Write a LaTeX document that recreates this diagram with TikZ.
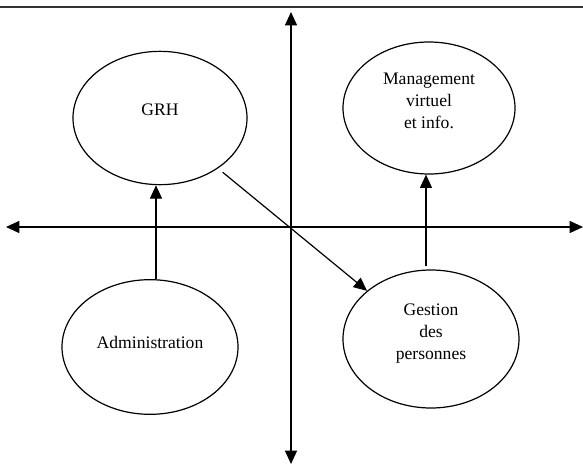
\documentclass[tikz,border=0pt]{standalone}
\usepackage{fontspec}
\setmainfont{Liberation Serif}
\usetikzlibrary{arrows.meta,shapes.geometric}
\begin{document}
\begin{tikzpicture}[x=0.75pt,y=-0.75pt,
  every node/.style={font=\fontsize{13.2}{16.5}\selectfont},
  bubble/.style={draw,ellipse,inner sep=0pt,line width=0.9pt},
  caption/.style={align=center,inner sep=0pt},
  axis/.style={line width=0.9pt,{Triangle[length=10pt,width=9pt]}-{Triangle[length=10pt,width=9pt]}},
  link/.style={line width=0.9pt,-{Triangle[length=10pt,width=9pt]}}]
  \useasboundingbox (0,0) rectangle (583,465);
  % rule at the top of the page
  \draw[line width=1.1pt,black!80] (0,7) -- (583,7);
  % the two axes
  \coordinate (top) at (291,12);
  \coordinate (bottom) at (291,464);
  \coordinate (left) at (6,227);
  \coordinate (right) at (583,227);
  \draw[axis] (top) -- (bottom);
  \draw[axis] (left) -- (right);
  % the four fields, each caption set a little above the centre
  \node[bubble,minimum width=130.5pt,minimum height=100pt,
        label={[caption,yshift=6.5pt]center:GRH}] (grh) at (160,118) {};
  \node[bubble,minimum width=129pt,minimum height=99pt,
        label={[caption,yshift=5pt]center:Management\\virtuel\\et info.}] (mv) at (429,108) {};
  \node[bubble,minimum width=132pt,minimum height=101pt,
        label={[caption,yshift=3.5pt]center:Administration}] (adm) at (150,347) {};
  \node[bubble,minimum width=132pt,minimum height=103.5pt,
        label={[caption,yshift=4pt]center:Gestion\\des\\personnes}] (gp) at (431,339) {};
  % moves between the fields
  \draw[link] (adm.north) ++(6,0) coordinate (a1) -- (a1 |- grh.south);
  \draw[link] (gp.north -| mv.south) ++(-3,-3) coordinate (a2) -- (a2 |- mv.south);
  \draw[link,shorten <=4.5pt] (grh.-41) -- (gp.143);
\end{tikzpicture}
\end{document}
